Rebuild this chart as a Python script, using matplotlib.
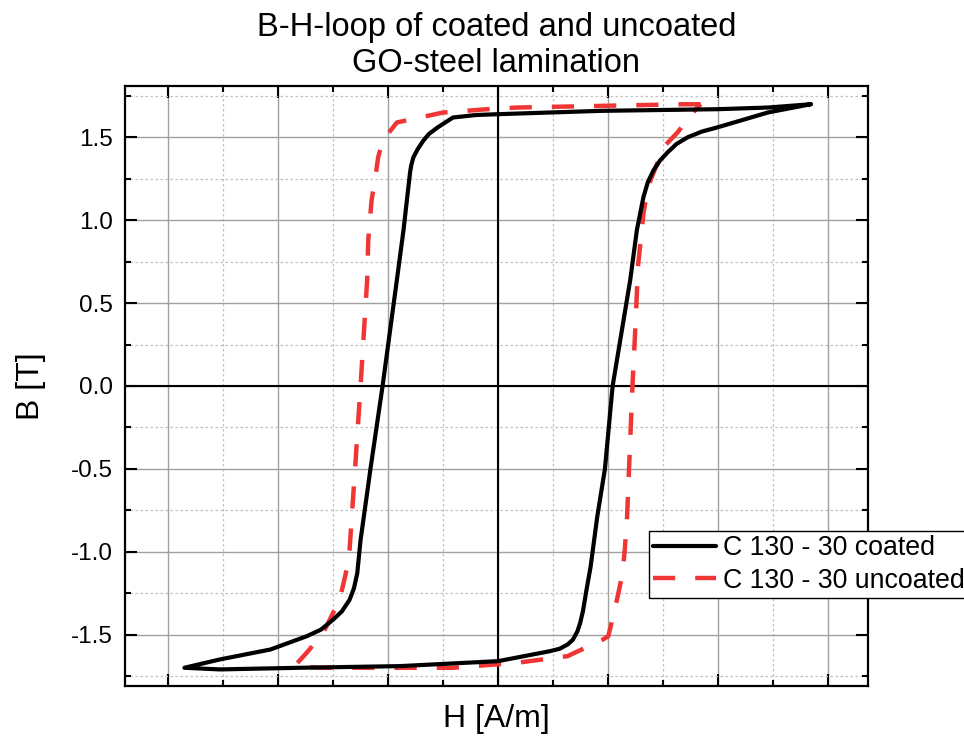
import matplotlib
matplotlib.use('Agg')
import matplotlib.pyplot as plt
from matplotlib.ticker import MultipleLocator, NullFormatter

plt.rcParams['font.family'] = ['Liberation Sans', 'DejaVu Sans']

# coated sample, H [A/m] (major grid = 10 A/m), B [T]
H_COATED = [28.4, 24.5, 19.9, 9.3, 0.0, -2.0, -4.1, -5.5, -6.3, -6.8, -7.3, -7.7, -7.9, -8.0, -8.6,
            -9.2, -10.5, -11.6, -12.5, -12.8, -13.1, -13.5, -14.2, -15.0, -16.1, -17.4, -20.7,
            -25.3, -28.5,
            -25.3, -18.0, -8.9, 0.0, 4.7, 5.6, 6.3, 6.8, 7.2, 7.45, 7.7, 8.0, 8.4, 9.0, 9.7, 10.4,
            12.0, 12.6, 13.2, 13.6, 14.1, 14.7, 15.4, 16.2, 17.2, 18.5, 19.9, 24.5, 28.4]
B_COATED = [1.70, 1.68, 1.67, 1.66, 1.64, 1.635, 1.62, 1.56, 1.52, 1.48, 1.43, 1.38, 1.33, 1.29, 0.94,
            0.64, 0.0, -0.5, -0.93, -1.13, -1.22, -1.29, -1.36, -1.41, -1.47, -1.51, -1.59,
            -1.65, -1.70,
            -1.71, -1.70, -1.69, -1.66, -1.60, -1.585, -1.56, -1.53, -1.48, -1.43, -1.36, -1.24,
            -1.09, -0.79, -0.5, 0.0,
            0.64, 0.94, 1.14, 1.23, 1.30, 1.36, 1.41, 1.46, 1.50, 1.535, 1.56, 1.65, 1.70]

# uncoated sample
H_UNCOATED = [18.4, 17.0, 9.3, 1.7, -1.0, -5.0, -9.2, -10.5, -10.9, -11.2, -11.5, -11.8, -11.9,
              -12.5, -13.0, -13.5, -13.7, -14.4, -15.3, -15.9, -17.4, -18.5,
              -16.2, -10.1, -4.1, 1.7, 6.3, 9.5, 10.0, 10.6, 11.3, 11.5, 11.7, 12.2, 12.5,
              12.7, 13.2, 13.6, 14.5, 15.0, 16.3, 17.7, 18.4]
B_UNCOATED = [1.70, 1.70, 1.69, 1.68, 1.67, 1.65, 1.59, 1.48, 1.38, 1.24, 1.12, 0.88, 0.64,
              0.0, -0.5, -0.99, -1.09, -1.29, -1.41, -1.49, -1.61, -1.69,
              -1.70, -1.70, -1.70, -1.67, -1.63, -1.53, -1.51, -1.35, -1.13, -0.99, -0.81, 0.0, 0.4,
              0.72, 1.04, 1.20, 1.35, 1.44, 1.53, 1.65, 1.70]

LABELS = ['C 130 - 30 coated', 'C 130 - 30 uncoated']


def main():
    fig = plt.figure(figsize=(9.64, 7.42), dpi=100)
    ax = fig.add_axes([125 / 964, 1 - 686 / 742, 743 / 964, 600 / 742])

    ax.plot(H_COATED, B_COATED, color='black', lw=3.0, label=LABELS[0], zorder=4,
            solid_joinstyle='round', solid_capstyle='round')
    ax.plot(H_UNCOATED, B_UNCOATED, color='#f03535', lw=3.2, label=LABELS[1], zorder=3,
            dashes=(5, 4.5))

    ax.axhline(0, color='black', lw=1.5, zorder=2)
    ax.axvline(0, color='black', lw=1.5, zorder=2)

    ax.set_xlim(-33.9, 33.6)
    ax.set_ylim(-1.81, 1.81)
    ax.xaxis.set_major_locator(MultipleLocator(10))
    ax.xaxis.set_minor_locator(MultipleLocator(5))
    ax.yaxis.set_major_locator(MultipleLocator(0.5))
    ax.yaxis.set_minor_locator(MultipleLocator(0.25))
    ax.xaxis.set_major_formatter(NullFormatter())
    ax.yaxis.set_major_formatter(plt.FormatStrFormatter('%.1f'))

    ax.grid(which='major', color='#a0a0a0', lw=1.0, ls='-')
    ax.grid(which='minor', color='#c0c0c0', lw=0.9, ls=(0, (2, 2)))
    ax.set_axisbelow(True)

    ax.tick_params(which='both', direction='in', top=True, right=True, width=1.5,
                   labelsize=17.5, pad=9)
    ax.tick_params(which='major', length=8.5)
    ax.tick_params(which='minor', length=4)
    for s in ax.spines.values():
        s.set_linewidth(1.6)

    ax.set_xlabel('H [A/m]', fontsize=23, labelpad=4)
    ax.set_ylabel('B [T]', fontsize=23, labelpad=18)
    ax.set_title('B-H-loop of coated and uncoated\nGO-steel lamination', fontsize=23.5,
                 linespacing=1.2, pad=10)

    leg = ax.legend(loc='upper left', bbox_to_anchor=(649 / 964, 1 - 531 / 742),
                    bbox_transform=fig.transFigure, borderaxespad=0, borderpad=0.15,
                    fontsize=19.3, handlelength=2.35, handletextpad=0.27, labelspacing=0.25,
                    fancybox=False, framealpha=1, edgecolor='black')
    leg.get_frame().set_linewidth(1.0)
    leg.set_zorder(10)

    plt.savefig('out.png', dpi=100)


if __name__ == '__main__':
    main()
